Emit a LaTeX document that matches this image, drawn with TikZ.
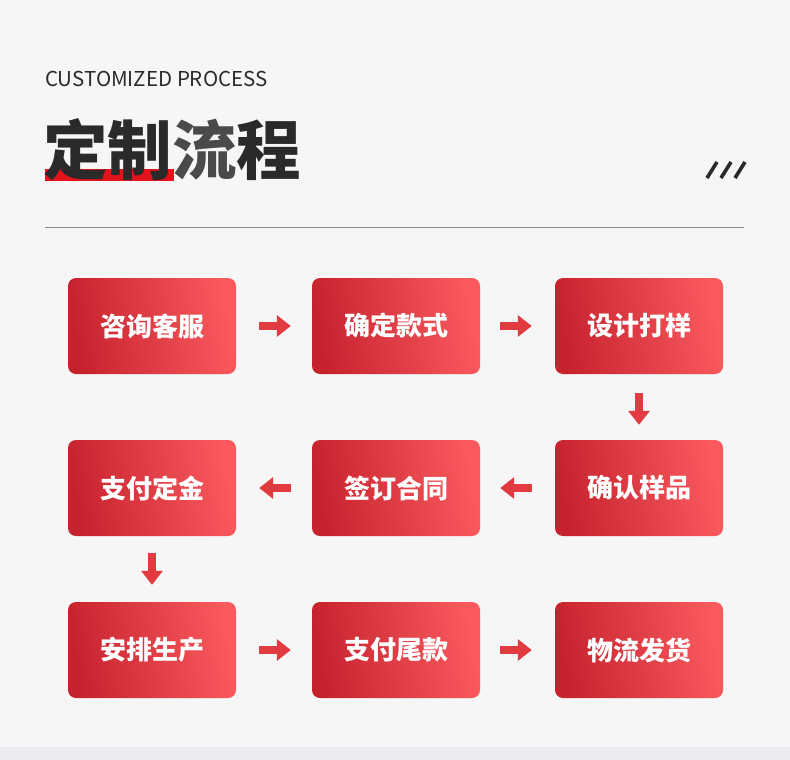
\documentclass[tikz,border=0pt]{standalone}
\usepackage{fontspec}
\setmainfont{Noto Sans CJK SC}
\usetikzlibrary{arrows.meta}
\definecolor{bgc}{HTML}{F6F6F6}
\definecolor{stripc}{HTML}{ECEBF0}
\definecolor{boxl}{HTML}{C6222E}
\definecolor{boxr}{HTML}{FA5A5E}
\definecolor{arrc}{HTML}{E13A40}
\definecolor{titc}{HTML}{2A2A2A}
\definecolor{titg}{HTML}{4A4A4A}
\definecolor{barc}{HTML}{E3131B}
\definecolor{rulec}{HTML}{8A8A8A}
\tikzset{
  stepbox/.style={rounded corners=8pt, minimum width=168pt, minimum height=96pt,
    left color=boxl, right color=boxr, shading angle=100, draw=none,
    text=white, font=\bfseries\fontsize{26}{30}\selectfont, inner sep=0pt},
  flow/.style={draw=arrc, line width=8pt,
    -{Triangle[length=14pt,width=21pt]}},
}
\begin{document}
\begin{tikzpicture}[x=1pt,y=-1pt]
\fill[bgc] (0,0) rectangle (790,760);
\useasboundingbox (0,0) rectangle (790,760);
\fill[stripc] (0,747) rectangle (790,760);
% header
\node[anchor=base west, inner sep=0pt, text=titc, font=\fontsize{20.5}{24}\selectfont] (sub) at (45,86) {CUSTOMIZED PROCESS};
\fill[barc] (45,169) rectangle (174,181);
\node[anchor=base west, inner sep=0pt, text=titc, font=\bfseries\fontsize{64.5}{72}\selectfont] (title) at (43,174) {定制\textcolor{titg}{流}程};
\foreach \i in {0,1,2} {
  \draw[titc, line width=3.6pt] (707+\i*14,178) -- (717+\i*14,162);
}
\draw[rulec, line width=0.8pt] (45,227) -- (744,227);
% boxes
\node[stepbox] (b1) at (152,326) {咨询客服};
\node[stepbox] (b2) at (396,326) {确定款式};
\node[stepbox] (b3) at (639,326) {设计打样};
\node[stepbox] (b4) at (639,488) {确认样品};
\node[stepbox] (b5) at (396,488) {签订合同};
\node[stepbox] (b6) at (152,488) {支付定金};
\node[stepbox] (b7) at (152,650) {安排生产};
\node[stepbox] (b8) at (396,650) {支付尾款};
\node[stepbox] (b9) at (639,650) {物流发货};
% arrows
\draw[flow, shorten <=23pt, shorten >=21pt] (b1) -- (b2);
\draw[flow, shorten <=20pt, shorten >=23pt] (b2) -- (b3);
\draw[flow, shorten <=19pt, shorten >=15pt] (b3) -- (b4);
\draw[flow, shorten <=23pt, shorten >=20pt] (b4) -- (b5);
\draw[flow, shorten <=21pt, shorten >=23pt] (b5) -- (b6);
\draw[flow, shorten <=17pt, shorten >=17pt] (b6) -- (b7);
\draw[flow, shorten <=23pt, shorten >=21pt] (b7) -- (b8);
\draw[flow, shorten <=20pt, shorten >=23pt] (b8) -- (b9);
\end{tikzpicture}
\end{document}
